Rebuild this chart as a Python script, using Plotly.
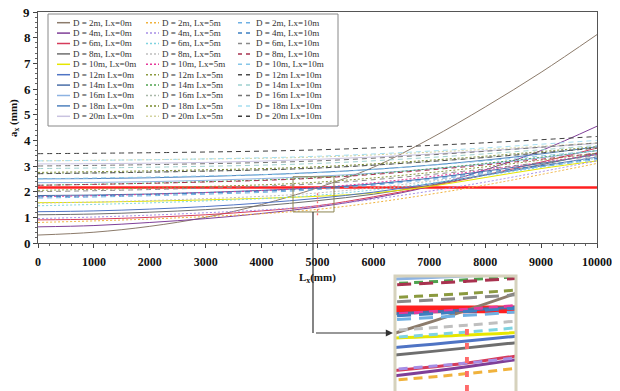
import plotly.graph_objects as go

# the page has an 8px body margin: the figure is sized to fit the 620x391 window
OFF = 8
W, H = 620 - OFF, 391 - OFF

# ---------------- data ----------------
x_solid = [0, 1000, 2000, 3000, 4000, 5000, 6000, 7000, 8000, 9000, 10000]
x_flat = [0, 2500, 5000, 7500, 10000]

names_lx0 = ["D = 2m, Lx=0m", "D = 4m, Lx=0m", "D = 6m, Lx=0m", "D = 8m, Lx=0m", "D = 10m, Lx=0m",
             "D = 12m Lx=0m", "D = 14m Lx=0m", "D = 16m Lx=0m", "D = 18m Lx=0m", "D = 20m Lx=0m"]
names_lx5 = ["D = 2m, Lx=5m", "D = 4m, Lx=5m", "D = 6m, Lx=5m", "D = 8m, Lx=5m", "D = 10m, Lx=5m",
             "D = 12m Lx=5m", "D = 14m Lx=5m", "D = 16m Lx=5m", "D = 18m Lx=5m", "D = 20m Lx=5m"]
names_lx10 = ["D = 2m, Lx=10m", "D = 4m, Lx=10m", "D = 6m, Lx=10m", "D = 8m, Lx=10m", "D = 10m, Lx=10m",
              "D = 12m Lx=10m", "D = 14m Lx=10m", "D = 16m Lx=10m", "D = 18m Lx=10m", "D = 20m Lx=10m"]

a_lx0 = [
    [0.31, 0.42, 0.65, 1.00, 1.50, 2.15, 2.95, 4.05, 5.30, 6.65, 8.12],
    [0.63, 0.68, 0.80, 0.95, 1.15, 1.40, 1.75, 2.20, 2.85, 3.60, 4.55],
    [0.90, 0.93, 1.00, 1.10, 1.25, 1.45, 1.80, 2.20, 2.65, 3.15, 3.70],
    [1.10, 1.13, 1.20, 1.30, 1.45, 1.65, 1.90, 2.25, 2.65, 3.05, 3.50],
    [1.57, 1.59, 1.63, 1.68, 1.74, 1.82, 1.95, 2.20, 2.55, 2.90, 3.20],
    [1.22, 1.25, 1.32, 1.42, 1.56, 1.74, 1.98, 2.30, 2.65, 3.00, 3.35],
    [1.85, 1.87, 1.91, 1.97, 2.05, 2.15, 2.30, 2.52, 2.80, 3.10, 3.45],
    [2.35, 2.36, 2.39, 2.44, 2.51, 2.60, 2.72, 2.88, 3.08, 3.32, 3.60],
    [2.50, 2.51, 2.54, 2.59, 2.66, 2.75, 2.87, 3.03, 3.23, 3.47, 3.75],
    [3.08, 3.09, 3.11, 3.14, 3.19, 3.26, 3.35, 3.46, 3.59, 3.73, 3.88],
]
a_lx5 = [
    [0.80, 0.98, 1.31, 2.07, 3.10],
    [0.95, 1.13, 1.45, 2.19, 3.20],
    [1.45, 1.60, 1.86, 2.47, 3.30],
    [1.55, 1.69, 1.95, 2.54, 3.35],
    [1.80, 1.93, 2.16, 2.71, 3.45],
    [2.05, 2.17, 2.37, 2.85, 3.50],
    [2.25, 2.36, 2.55, 2.99, 3.60],
    [2.70, 2.78, 2.92, 3.25, 3.70],
    [2.75, 2.83, 2.97, 3.30, 3.75],
    [3.20, 3.26, 3.35, 3.59, 3.90],
]
a_lx10 = [
    [1.75, 1.87, 2.08, 2.58, 3.25],
    [1.80, 1.92, 2.13, 2.63, 3.30],
    [2.00, 2.11, 2.31, 2.77, 3.40],
    [2.25, 2.35, 2.53, 2.94, 3.50],
    [2.50, 2.59, 2.74, 3.11, 3.60],
    [2.70, 2.78, 2.92, 3.25, 3.70],
    [2.90, 2.97, 3.10, 3.40, 3.80],
    [3.00, 3.07, 3.20, 3.50, 3.90],
    [3.20, 3.26, 3.38, 3.64, 4.00],
    [3.48, 3.53, 3.63, 3.85, 4.15],
]

limit_x = [0, 10000]
limit_y = [2.16, 2.16]
mark_x = [5000, 5000]
mark_y = [1.08, 1.95]

x_ticks = [0, 1000, 2000, 3000, 4000, 5000, 6000, 7000, 8000, 9000, 10000]
x_tick_labels = ["0", "1000", "2000", "3000", "4000", "5000", "6000", "7000", "8000", "9000", "10000"]
y_ticks = [0, 1, 2, 3, 4, 5, 6, 7, 8, 9]
y_tick_labels = ["0", "1", "2", "3", "4", "5", "6", "7", "8", "9"]

# zoom window shown in the inset
zoom_x = [4562, 5295]
zoom_y = [1.21, 2.58]

# ---------------- styles ----------------
c0 = ['#8c7b6b', '#7f3f98', '#d63b5b', '#6e6e6e', '#e6e600',
      '#4f74c4', '#4a6ea8', '#8db3e2', '#4f81bd', '#c9c3e0']
c5 = ['#f0b23c', '#a68ee6', '#7fd3e0', '#bfbfbf', '#e6399b',
      '#8b9a3f', '#4fa24f', '#a9b8a9', '#7a8a2e', '#d3d3a0']
c10 = ['#6fb0e3', '#3d7fc1', '#8a8a8a', '#a8324f', '#86c6e8',
       '#4d4d4d', '#9fd1cf', '#757575', '#a5def0', '#3f3f3f']

SERIF = "Liberation Serif, Times New Roman, serif"


def px(x):
    """screen x pixel -> paper fraction"""
    return (x - OFF) / W


def py(y):
    """screen y pixel -> paper fraction"""
    return 1 - (y - OFF) / H


fig = go.Figure()

for axes, scale in ((('x', 'y'), 1), (('x2', 'y2'), 3)):
    xa, ya = axes
    fig.add_trace(go.Scatter(x=limit_x, y=limit_y, mode='lines', xaxis=xa, yaxis=ya,
                             line=dict(color='#ff2020', width=2.6 * scale), showlegend=False,
                             hoverinfo='skip'))
    for i in range(10):
        fig.add_trace(go.Scatter(x=x_solid, y=a_lx0[i], mode='lines', name=names_lx0[i],
                                 xaxis=xa, yaxis=ya, showlegend=False,
                                 line=dict(color=c0[i], width=1 * scale, shape='spline')))
    for i in range(10):
        fig.add_trace(go.Scatter(x=x_flat, y=a_lx5[i], mode='lines', name=names_lx5[i],
                                 xaxis=xa, yaxis=ya, showlegend=False,
                                 line=dict(color=c5[i], width=1 * scale, shape='spline',
                                           dash='2px,2px' if scale == 1 else '9px,6px')))
    for i in range(10):
        fig.add_trace(go.Scatter(x=x_flat, y=a_lx10[i], mode='lines', name=names_lx10[i],
                                 xaxis=xa, yaxis=ya, showlegend=False,
                                 line=dict(color=c10[i], width=1 * scale, shape='spline',
                                           dash='5px,4px' if scale == 1 else '14px,8px')))
    fig.add_trace(go.Scatter(x=mark_x, y=mark_y, mode='lines', xaxis=xa, yaxis=ya,
                             showlegend=False, hoverinfo='skip',
                             line=dict(color='#ff6b6b', width=1.3 * scale,
                                       dash='2px,2px' if scale == 1 else '6px,8px')))

tickfont_x = dict(family=SERIF, size=12, color='#111', weight='bold')
tickfont_y = dict(family=SERIF, size=13, color='#111', weight='bold')

# the top label "9" sits at the very edge of the page; it is drawn as an annotation
y_axis_text = y_tick_labels[:-1] + [""]

fig.update_layout(
    width=W, height=H,
    margin=dict(l=0, r=0, t=0, b=0, autoexpand=False),
    paper_bgcolor='white', plot_bgcolor='white',
    showlegend=False,
    xaxis=dict(domain=[px(38), px(597)], range=[0, 10000], tickvals=x_ticks, ticktext=x_tick_labels,
               ticks='outside', ticklen=4, tickwidth=1, tickcolor='#444',
               minor=dict(dtick=200, ticks='outside', ticklen=2, tickcolor='#666'),
               showline=True, linecolor='#555', linewidth=1, mirror=True, automargin=False,
               showgrid=False, zeroline=False, tickfont=tickfont_x, anchor='y',
               ticklabelstandoff=4),
    yaxis=dict(domain=[py(243), py(12)], range=[0, 9], tickvals=y_ticks, ticktext=y_axis_text,
               ticks='outside', ticklen=4, tickwidth=1, tickcolor='#444',
               minor=dict(dtick=0.2, ticks='outside', ticklen=2, tickcolor='#666'),
               showline=True, linecolor='#555', linewidth=1, mirror=True, automargin=False,
               showgrid=False, zeroline=False, tickfont=tickfont_y, anchor='x'),
    # overlay axes that give the major ticks their inner half (cross-shaped ticks)
    xaxis3=dict(domain=[px(38), px(597)], range=[0, 10000], tickvals=x_ticks, overlaying='x',
                anchor='y', side='bottom', ticks='inside', ticklen=3, tickcolor='#444',
                showticklabels=False, showline=False, showgrid=False, zeroline=False,
                automargin=False),
    yaxis3=dict(domain=[py(243), py(12)], range=[0, 9], tickvals=y_ticks, overlaying='y',
                anchor='x', side='left', ticks='inside', ticklen=3, tickcolor='#444',
                showticklabels=False, showline=False, showgrid=False, zeroline=False,
                automargin=False),
    xaxis2=dict(domain=[px(395), px(516)], range=[4560, 5300], visible=False, anchor='y2',
                automargin=False),
    yaxis2=dict(domain=[0, py(276)], range=[1.08, 2.6], visible=False, anchor='x2',
                automargin=False),
)

shapes = []
annotations = []

# top y tick label
annotations.append(dict(xref='paper', yref='paper', x=px(31.5), y=py(12.5), text=y_tick_labels[-1],
                        showarrow=False, xanchor='right', yanchor='middle',
                        font=tickfont_y))

# zoom rectangle on the main plot
shapes.append(dict(type='rect', xref='x', yref='y', x0=zoom_x[0], x1=zoom_x[1],
                   y0=zoom_y[0], y1=zoom_y[1], line=dict(color='#8c8450', width=1)))
# connector down from rectangle
shapes.append(dict(type='line', xref='paper', yref='paper', x0=px(313), x1=px(313),
                   y0=py(212), y1=py(333), line=dict(color='#333', width=1.2)))
annotations.append(dict(xref='paper', yref='paper', x=px(393), y=py(333), text=' ',
                        showarrow=True, axref='pixel', ayref='pixel', ax=-80, ay=0,
                        arrowhead=2, arrowsize=1.2, arrowwidth=1.2, arrowcolor='#333'))
# inset frame
shapes.append(dict(type='rect', xref='paper', yref='paper', x0=px(395), x1=px(516),
                   y0=py(395), y1=py(276), line=dict(color='#d6d2bd', width=3), layer='above'))

# legend box
shapes.append(dict(type='rect', xref='paper', yref='paper', x0=px(48), x1=px(338),
                   y0=py(126), y1=py(14), line=dict(color='#888', width=1),
                   fillcolor='white', layer='below'))
col_line = [(57, 70), (146, 159), (238, 252)]
col_text = [71, 160, 254]
col_names = [names_lx0, names_lx5, names_lx10]
col_colors = [c0, c5, c10]
col_dash = ['solid', '2px,2px', '4px,4px']
for j in range(3):
    for i in range(10):
        yy = 22.7 + i * 10.4
        shapes.append(dict(type='line', xref='paper', yref='paper',
                           x0=px(col_line[j][0]), x1=px(col_line[j][1]), y0=py(yy), y1=py(yy),
                           line=dict(color=col_colors[j][i], width=1.5, dash=col_dash[j])))
        annotations.append(dict(xref='paper', yref='paper', x=px(col_text[j]), y=py(yy),
                                xanchor='left', yanchor='middle', showarrow=False,
                                text=col_names[j][i],
                                font=dict(family=SERIF, size=9, color='#333')))

# axis titles
annotations.append(dict(xref='paper', yref='paper', x=px(317), y=py(278), text='L<sub>x</sub>(mm)',
                        showarrow=False, xanchor='center', yanchor='middle',
                        font=dict(family=SERIF, size=11, color='#111', weight='bold')))
annotations.append(dict(xref='paper', yref='paper', x=px(14), y=py(118), text='a<sub>x</sub> (mm)',
                        showarrow=False, textangle=-90, xanchor='center', yanchor='middle',
                        font=dict(family=SERIF, size=11, color='#111', weight='bold')))

fig.update_layout(shapes=shapes, annotations=annotations)

fig.write_html("out.html")
